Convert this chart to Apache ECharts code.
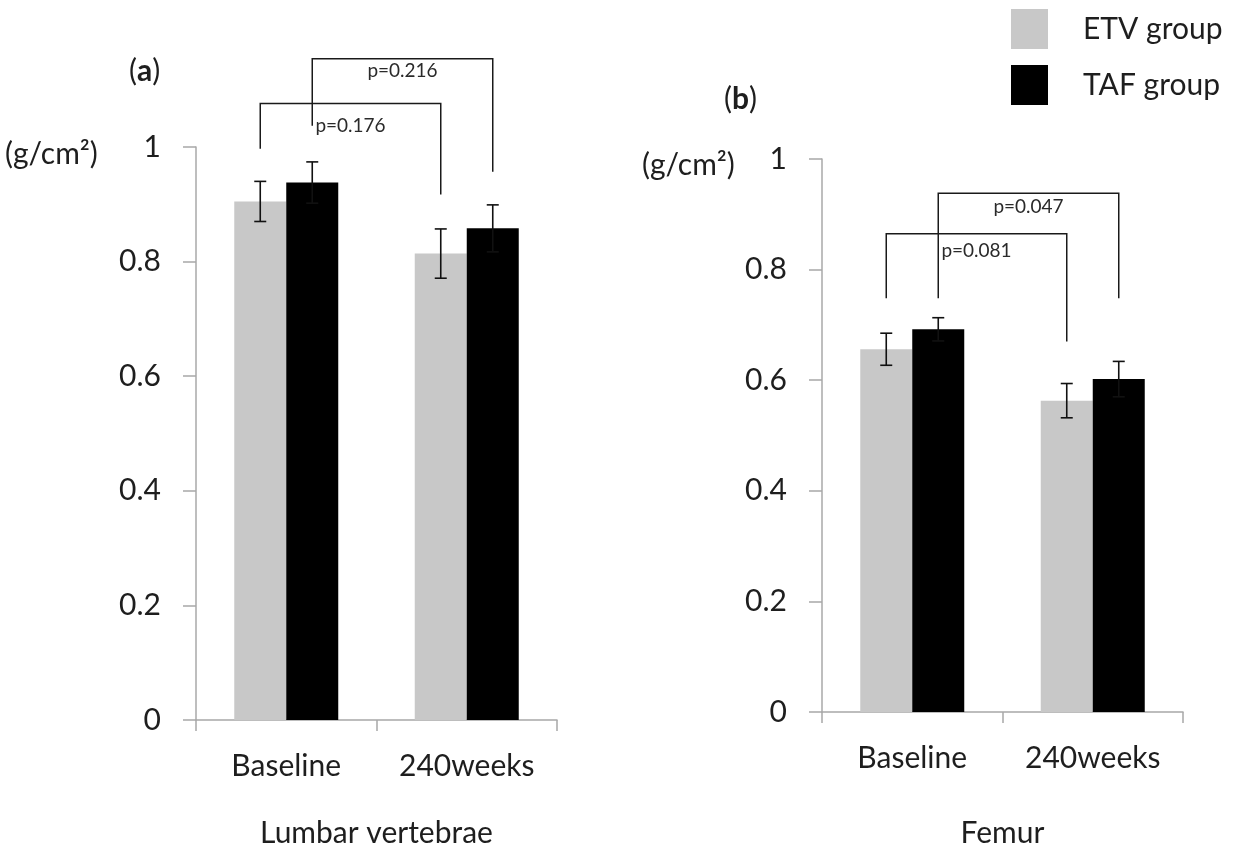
<!DOCTYPE html>
<html><head><meta charset="utf-8">
<script src="https://cdn.jsdelivr.net/npm/echarts@6/dist/echarts.min.js"></script>
<style>html,body{margin:0;padding:0;background:#fff}#c{width:1252px;height:853px}</style>
</head><body><div id="c"></div>
<script>
const categories = ['Baseline', '240weeks'];
const seriesNames = ['ETV group', 'TAF group'];
const yTicks = [0, 0.2, 0.4, 0.6, 0.8, 1];
const panelLetters = ['a', 'b'];
const axisTitles = ['Lumbar vertebrae', 'Femur'];
const unitLabel = '(g/cm²)';

// Panel (a) Lumbar vertebrae
const lumbarETV = [0.905, 0.814];
const lumbarTAF = [0.938, 0.858];
const lumbarETVerr = [0.035, 0.043];
const lumbarTAFerr = [0.036, 0.041];
// Panel (b) Femur
const femurETV = [0.656, 0.563];
const femurTAF = [0.692, 0.602];
const femurETVerr = [0.029, 0.031];
const femurTAFerr = [0.021, 0.032];

// Significance brackets: group (0 ETV, 1 TAF), top, left foot, right foot, label level, text
const lumbarBrackets = [
  [0, 1.076, 0.997, 0.917, 1.036, 'p=0.176'],
  [1, 1.154, 1.037, 0.957, 1.132, 'p=0.216']
];
const femurBrackets = [
  [0, 0.865, 0.748, 0.670, 0.833, 'p=0.081'],
  [1, 0.938, 0.748, 0.748, 0.914, 'p=0.047']
];

const FONT = 'Lato, "Open Sans", sans-serif';
const TXT = '#1e1e1e';
const AXIS = '#a8a8a8';
const BAR_W = 52;
const COLORS = ['#c8c8c8', '#000000'];

function errData(vals, errs) {
  return vals.map((v, i) => [i, v - errs[i], v + errs[i]]);
}
function makeErrRender(group) {
  return function (params, api) {
    const i = api.value(0);
    const lo = api.coord([i, api.value(1)]);
    const hi = api.coord([i, api.value(2)]);
    const x = lo[0] + (group === 0 ? -1 : 1) * BAR_W / 2;
    const cap = 6;
    const st = { stroke: '#111', lineWidth: 1.6 };
    return { type: 'group', children: [
      { type: 'line', shape: { x1: x, y1: lo[1], x2: x, y2: hi[1] }, style: st },
      { type: 'line', shape: { x1: x - cap, y1: lo[1], x2: x + cap, y2: lo[1] }, style: st },
      { type: 'line', shape: { x1: x - cap, y1: hi[1], x2: x + cap, y2: hi[1] }, style: st }
    ]};
  };
}
function bracketRender(params, api) {
  const g = api.value(0);
  const off = (g === 0 ? -1 : 1) * BAR_W / 2;
  const top = api.value(1), lf = api.value(2), rf = api.value(3), lab = api.value(4);
  const pTopL = api.coord([0, top]), pTopR = api.coord([1, top]);
  const pLf = api.coord([0, lf]), pRf = api.coord([1, rf]);
  const pLab = api.coord([0.5, lab]);
  const xl = pTopL[0] + off, xr = pTopR[0] + off;
  const st = { stroke: '#1a1a1a', lineWidth: 1.5, fill: null };
  return { type: 'group', children: [
    { type: 'polyline', shape: { points: [[xl, pLf[1]], [xl, pTopL[1]], [xr, pTopR[1]], [xr, pRf[1]]] }, style: st },
    { type: 'text', x: (xl + xr) / 2, y: pLab[1], style: { text: api.value(5), font: '19px ' + FONT, fill: '#2a2a2a', align: 'center', verticalAlign: 'middle' } }
  ]};
}

const grids = [
  { left: 196, top: 147, width: 361, height: 580 },
  { left: 822, top: 159, width: 361, height: 556 }
];
const panels = [
  { etv: lumbarETV, taf: lumbarTAF, etvErr: lumbarETVerr, tafErr: lumbarTAFerr, brackets: lumbarBrackets },
  { etv: femurETV, taf: femurTAF, etvErr: femurETVerr, tafErr: femurTAFerr, brackets: femurBrackets }
];

const xAxes = [], yAxes = [], series = [];
panels.forEach((p, k) => {
  xAxes.push({
    type: 'category', gridIndex: k, data: categories,
    axisLine: { lineStyle: { color: AXIS, width: 1.5 } },
    axisTick: { show: true, length: 11, lineStyle: { color: AXIS, width: 1.5 } },
    axisLabel: { fontSize: 30, color: TXT, fontFamily: FONT, margin: 31 },
    name: axisTitles[k], nameLocation: 'middle', nameGap: k === 0 ? 98 : 106,
    nameTextStyle: { fontSize: 30, color: TXT, fontFamily: FONT }
  });
  yAxes.push({
    type: 'value', gridIndex: k, min: yTicks[0], max: yTicks[yTicks.length - 1],
    interval: yTicks[1] - yTicks[0],
    axisLine: { show: true, lineStyle: { color: AXIS, width: 1.5 } },
    axisTick: { show: true, length: 13, lineStyle: { color: AXIS, width: 1.5 } },
    splitLine: { show: false },
    axisLabel: { fontSize: 30, color: TXT, fontFamily: FONT, margin: 35 }
  });
  series.push({
    name: seriesNames[0], type: 'bar', xAxisIndex: k, yAxisIndex: k, data: p.etv,
    barWidth: BAR_W, barGap: '0%', itemStyle: { color: COLORS[0] }
  });
  series.push({
    name: seriesNames[1], type: 'bar', xAxisIndex: k, yAxisIndex: k, data: p.taf,
    barWidth: BAR_W, barGap: '0%', itemStyle: { color: COLORS[1] }
  });
  series.push({
    type: 'custom', xAxisIndex: k, yAxisIndex: k, z: 5, clip: false,
    data: errData(p.etv, p.etvErr), renderItem: makeErrRender(0), encode: { x: 0, y: [1, 2] }
  });
  series.push({
    type: 'custom', xAxisIndex: k, yAxisIndex: k, z: 5, clip: false,
    data: errData(p.taf, p.tafErr), renderItem: makeErrRender(1), encode: { x: 0, y: [1, 2] }
  });
  series.push({
    type: 'custom', xAxisIndex: k, yAxisIndex: k, z: 6, clip: false,
    data: p.brackets, renderItem: bracketRender, encode: { x: 0, y: 1 }
  });
});

const titles = [
  { text: '({b|' + panelLetters[0] + '})', left: 124, top: 51 },
  { text: '({b|' + panelLetters[1] + '})', left: 719, top: 79 },
  { text: unitLabel, left: 0, top: 134 },
  { text: unitLabel, left: 637, top: 145 }
].map(t => Object.assign(t, {
  textStyle: { fontSize: 30, fontWeight: 'normal', color: TXT, fontFamily: FONT,
    rich: { b: { fontSize: 30, fontWeight: 'bold', color: TXT, fontFamily: FONT } } }
}));

const chart = echarts.init(document.getElementById('c'), null, { renderer: 'canvas' });
chart.setOption({
  backgroundColor: '#ffffff',
  animation: false,
  title: titles,
  legend: {
    data: seriesNames, orient: 'vertical', left: 1011, top: 9,
    itemWidth: 37, itemHeight: 40, itemGap: 16, icon: 'rect', padding: 0,
    textStyle: { fontSize: 30, color: TXT, fontFamily: FONT, padding: [0, 0, 0, 30] }
  },
  grid: grids,
  xAxis: xAxes,
  yAxis: yAxes,
  series: series
});
</script>
</body></html>
